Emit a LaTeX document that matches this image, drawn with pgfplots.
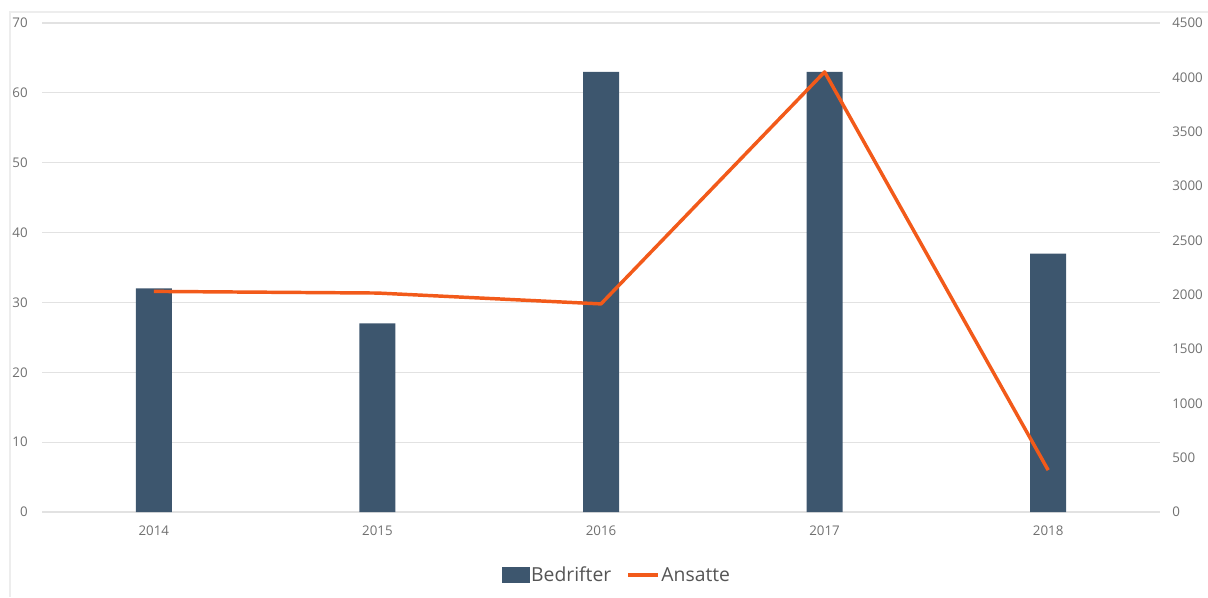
\documentclass[border=0pt]{standalone}
\usepackage{fontspec}
\setmainfont{Open Sans}
\usepackage{pgfplots}
\pgfplotsset{compat=1.18}
\definecolor{barcol}{HTML}{3D566E}
\definecolor{linecol}{HTML}{F25A1A}
\definecolor{gridcol}{HTML}{E2E2E2}
\definecolor{tickcol}{HTML}{707070}
\definecolor{legcol}{HTML}{555555}
\begin{document}
\begin{tikzpicture}[x=1pt,y=1pt]
\path[use as bounding box] (0,0) rectangle (906,447.75);
\draw[color=black!7, line width=1pt] (7.5,0) -- (7.5,438.75) -- (906,438.75);
\pgfplotsset{common/.style={
  at={(31.5pt,63.75pt)}, anchor=south west, scale only axis,
  width=838.5pt, height=366.75pt,
  xmin=-0.5, xmax=4.5,
  axis lines*=left, axis line style={draw=none},
  major tick length=0pt, tick style={draw=none},
  /pgf/number format/assume math mode=true,
  /pgf/number format/1000 sep={},
  tick label style={font=\fontsize{10}{12}\selectfont, text=tickcol, inner sep=0pt},
}}
\begin{axis}[common,
  ymin=0, ymax=70, ytick={0,10,...,70},
  xtick={0,1,2,3,4}, xticklabels={2014,2015,2016,2017,2018},
  xticklabel style={anchor=north, yshift=-10.5pt},
  yticklabel style={anchor=east, xshift=-10.5pt},
  ymajorgrids, grid style={gridcol, line width=0.9pt},
]
\addplot[ybar, bar width=27pt, fill=barcol, draw=none] coordinates {(0,32) (1,27) (2,63) (3,63) (4,37)};
\end{axis}
\begin{axis}[common,
  ymin=0, ymax=4500, ytick={0,500,...,4500},
  axis y line*=right, hide x axis,
  yticklabel style={anchor=west, xshift=9pt},
  legend style={at={(0.5143,-0.129)}, anchor=center, draw=none, fill=none,
    legend columns=-1, font=\fontsize{14.5}{17}\selectfont, text=legcol,
    /tikz/every even column/.append style={column sep=10pt},
    nodes={inner sep=1.5pt}},
]
\addlegendimage{legend image code/.code={\fill[barcol] (0pt,-5.5pt) rectangle (20pt,5.5pt);}}
\addlegendentry{Bedrifter}
\addplot[linecol, line width=2.6pt, line join=round, mark=none,
  legend image code/.code={\draw[linecol, line width=2.6pt] (0pt,0pt) -- (22pt,0pt);}]
  coordinates {(0,2030) (1,2015) (2,1915) (3,4050) (4,385)};
\addlegendentry{Ansatte}
\end{axis}
\end{tikzpicture}
\end{document}
